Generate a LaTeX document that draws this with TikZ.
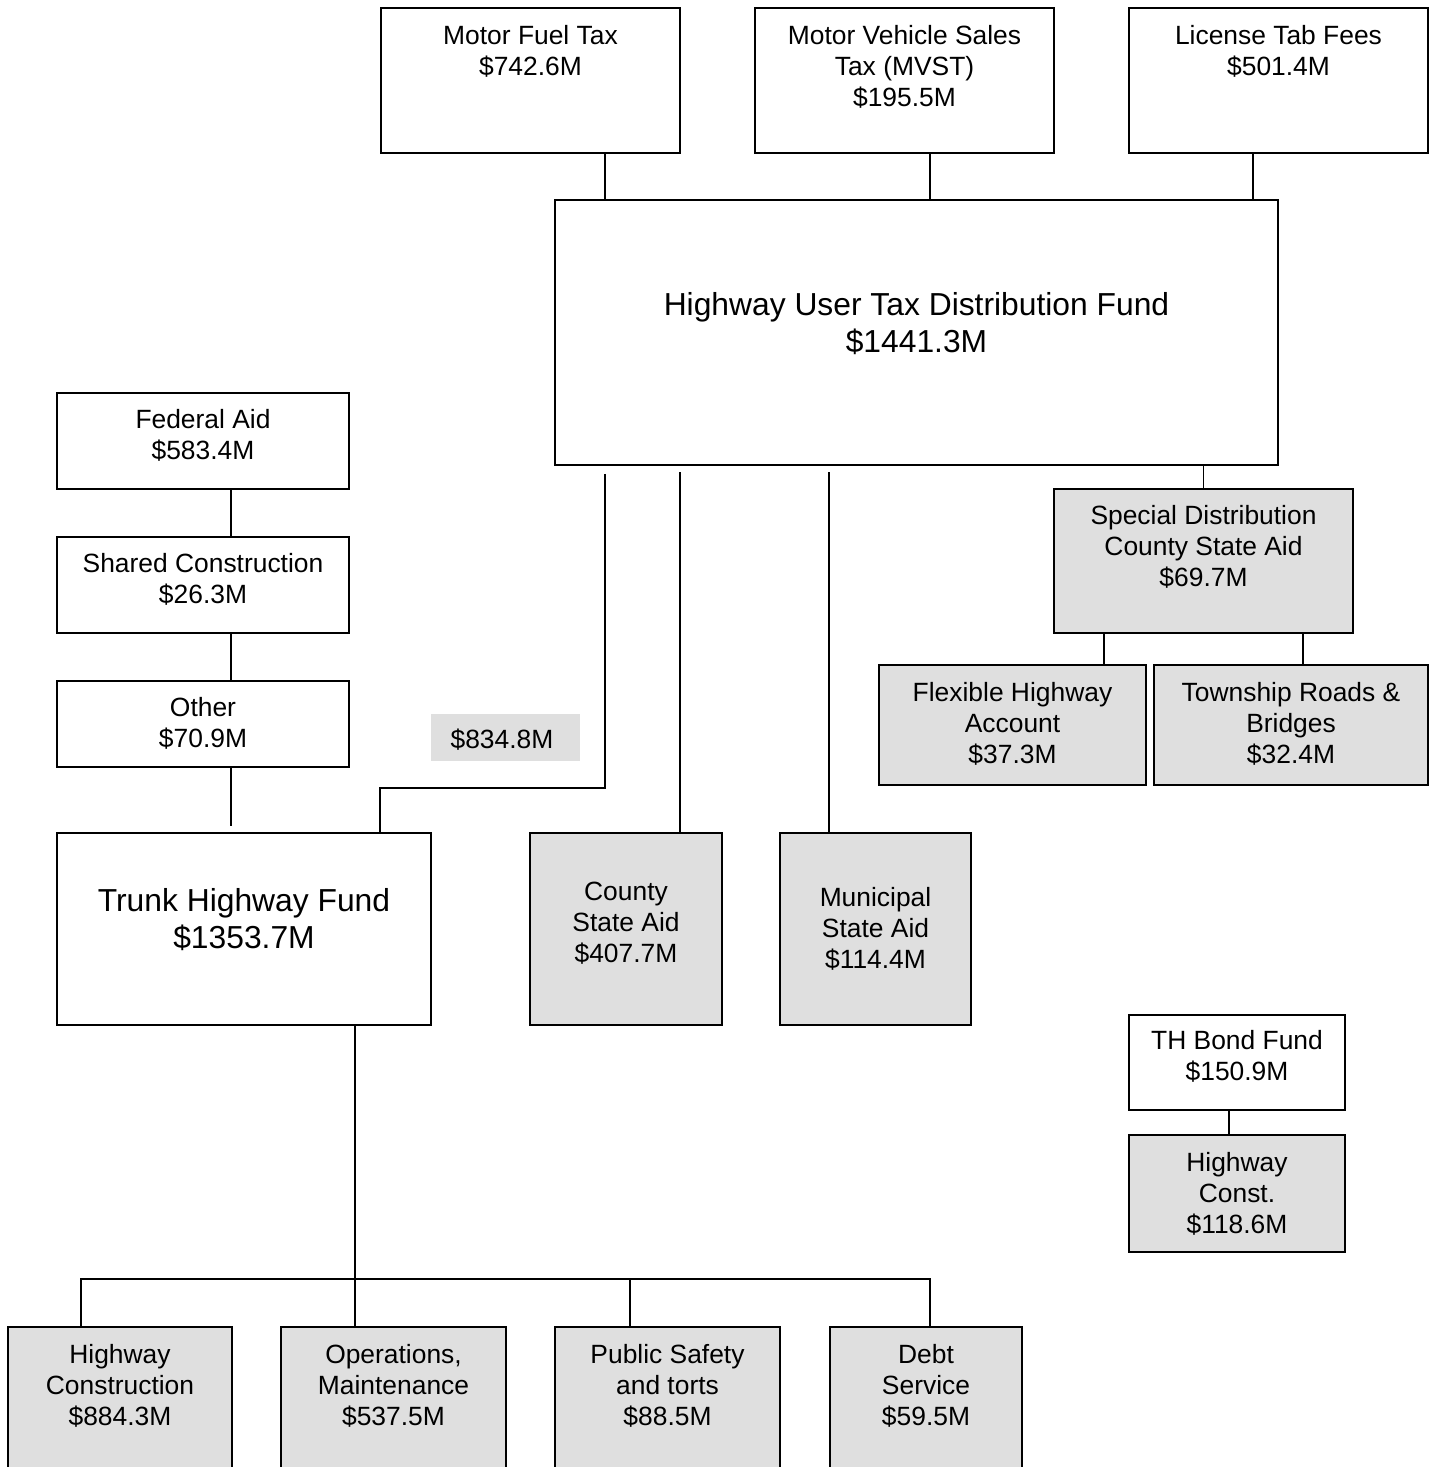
\documentclass[tikz,border=0pt]{standalone}
\usepackage{fontspec}
\setmainfont{Liberation Sans}
\definecolor{boxgray}{RGB}{223,223,223}
\newcommand{\firstln}{\rule{0pt}{22pt}}
\newcommand{\firstbig}{\rule{0pt}{27pt}}
\tikzset{
  box/.style={draw=black, line width=1.8pt, inner sep=0pt, fill=white},
  gbox/.style={box, fill=boxgray},
  txt/.style={inner sep=0pt, anchor=north, align=center, font=\fontsize{26.4pt}{31pt}\selectfont},
  bigtxt/.style={inner sep=0pt, anchor=north, align=center, font=\fontsize{31.8pt}{37pt}\selectfont},
  conn/.style={draw=black, line width=1.8pt}
}
\begin{document}
\begin{tikzpicture}[x=1pt,y=-1pt]
\clip (0,0) rectangle (1440,1467);
\fill[white] (0,0) rectangle (1440,1467);
% boxes
\node[box, minimum width=299pt, minimum height=145pt] (mft) at (530.5,80.5) {};
\node[box, minimum width=299pt, minimum height=145pt] (mvst) at (904.5,80.5) {};
\node[box, minimum width=299pt, minimum height=145pt] (lic) at (1278.5,80.5) {};
\node[box, minimum width=723pt, minimum height=265pt] (hut) at (916.5,332.5) {};
\node[box, minimum width=292pt, minimum height=96pt] (fed) at (203,441) {};
\node[box, minimum width=292pt, minimum height=96pt] (shr) at (203,585) {};
\node[box, minimum width=292pt, minimum height=86pt] (oth) at (203,724) {};
\node[fill=boxgray, inner sep=0pt, minimum width=149pt, minimum height=47pt] (lbl) at (505.5,737.5) {};
\node[box, minimum width=374pt, minimum height=192pt] (thf) at (244,929) {};
\node[gbox, minimum width=192pt, minimum height=192pt] (csa) at (626,929) {};
\node[gbox, minimum width=191pt, minimum height=192pt] (msa) at (875.5,929) {};
\node[gbox, minimum width=299pt, minimum height=144pt] (spc) at (1203.5,561) {};
\node[gbox, minimum width=267pt, minimum height=120pt] (flx) at (1012.5,725) {};
\node[gbox, minimum width=274pt, minimum height=120pt] (twp) at (1291,725) {};
\node[box, minimum width=216pt, minimum height=95pt] (thb) at (1237,1062.5) {};
\node[gbox, minimum width=216pt, minimum height=117pt] (hwc) at (1237,1193.5) {};
\node[gbox, minimum width=224pt, minimum height=163pt] (hc) at (120,1408.5) {};
\node[gbox, minimum width=225pt, minimum height=163pt] (om) at (393.5,1408.5) {};
\node[gbox, minimum width=225pt, minimum height=163pt] (ps) at (667.5,1408.5) {};
\node[gbox, minimum width=192pt, minimum height=163pt] (ds) at (926,1408.5) {};
% texts
\node[txt] (t-mft) at (530.5,22.5) {\firstln Motor Fuel Tax\\\$742.6M};
\node[txt] (t-mvst) at (904.5,22.5) {\firstln Motor Vehicle Sales\\Tax (MVST)\\\$195.5M};
\node[txt] (t-lic) at (1278.5,22.5) {\firstln License Tab Fees\\\$501.4M};
\node[bigtxt] (t-hut) at (916.5,288.4) {\firstbig Highway User Tax Distribution Fund\\\$1441.3M};
\node[txt] (t-fed) at (203,406.5) {\firstln Federal Aid\\\$583.4M};
\node[txt] (t-shr) at (203,550.5) {\firstln Shared Construction\\\$26.3M};
\node[txt] (t-oth) at (203,694.5) {\firstln Other\\\$70.9M};
\node[txt] (t-lbl) at (502,726.5) {\firstln \$834.8M};
\node[bigtxt] (t-thf) at (244,884.4) {\firstbig Trunk Highway Fund\\\$1353.7M};
\node[txt] (t-csa) at (626,878.5) {\firstln County\\State Aid\\\$407.7M};
\node[txt] (t-msa) at (875.5,884.5) {\firstln Municipal\\State Aid\\\$114.4M};
\node[txt] (t-spc) at (1203.5,502.5) {\firstln Special Distribution\\County State Aid\\\$69.7M};
\node[txt] (t-flx) at (1012.5,679.5) {\firstln Flexible Highway\\Account\\\$37.3M};
\node[txt] (t-twp) at (1291,679.5) {\firstln Township Roads \&\\Bridges\\\$32.4M};
\node[txt] (t-thb) at (1237,1027.5) {\firstln TH Bond Fund\\\$150.9M};
\node[txt] (t-hwc) at (1237,1149.5) {\firstln Highway\\Const.\\\$118.6M};
\node[txt] (t-hc) at (120,1341.5) {\firstln Highway\\Construction\\\$884.3M};
\node[txt] (t-om) at (393.5,1341.5) {\firstln Operations,\\Maintenance\\\$537.5M};
\node[txt] (t-ps) at (667.5,1341.5) {\firstln Public Safety\\and torts\\\$88.5M};
\node[txt] (t-ds) at (926,1341.5) {\firstln Debt\\Service\\\$59.5M};
% connectors
\draw[conn] ([xshift=74.5pt]mft.south) -- ([xshift=74.5pt]mft.south |- hut.north);
\draw[conn] ([xshift=25.5pt]mvst.south) -- ([xshift=25.5pt]mvst.south |- hut.north);
\draw[conn] ([xshift=-25.5pt]lic.south) -- ([xshift=-25.5pt]lic.south |- hut.north);
\draw[conn] (spc.north) -- (spc.north |- hut.south);
\coordinate (k1) at ([xshift=-311.5pt,yshift=-8pt]hut.south);
\draw[conn] (k1) -- ++(0,314) -| ([xshift=136pt]thf.north);
\draw[conn] ([xshift=54pt]csa.north) -- ++(0,-360);
\draw[conn] ([xshift=-46.5pt]msa.north) -- ++(0,-360);
\draw[conn] ([xshift=28pt]fed.south) -- ([xshift=28pt]shr.north);
\draw[conn] ([xshift=28pt]shr.south) -- ([xshift=28pt]oth.north);
\draw[conn] ([xshift=28pt]oth.south) -- ++(0,58);
\draw[conn] ([xshift=91.5pt]flx.north) -- ([xshift=91.5pt]flx.north |- spc.south);
\draw[conn] ([xshift=12pt]twp.north) -- ([xshift=12pt]twp.north |- spc.south);
\draw[conn] ([xshift=-8pt]thb.south) -- ([xshift=-8pt]hwc.north);
\draw[conn] ([xshift=111pt]thf.south) -- ++(0,253) coordinate (bus);
\draw[conn] ([xshift=-39pt]hc.north) |- ([xshift=4pt]ds.north |- bus) -- ([xshift=4pt]ds.north);
\draw[conn] ([xshift=-38.5pt]om.north) -- ([xshift=-38.5pt]om.north |- bus);
\draw[conn] ([xshift=-37.5pt]ps.north) -- ([xshift=-37.5pt]ps.north |- bus);
\end{tikzpicture}
\end{document}
